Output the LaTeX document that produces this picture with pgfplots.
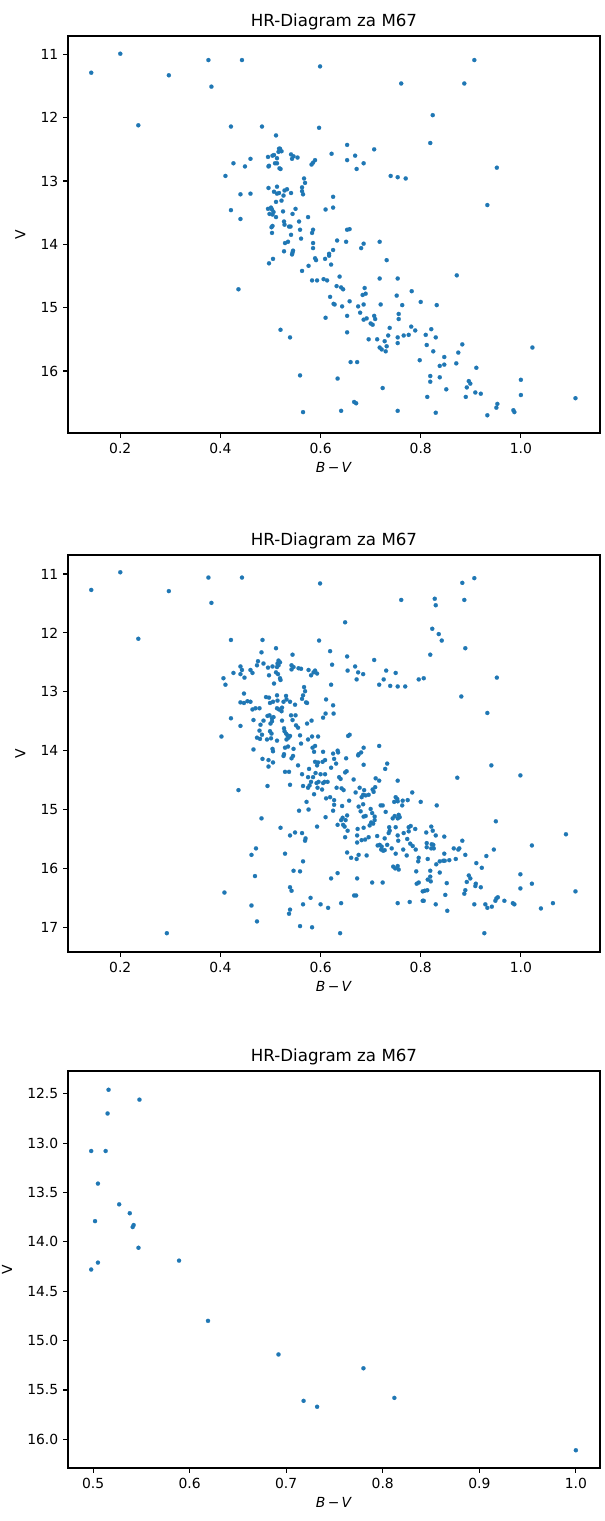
\documentclass[border=0pt]{standalone}
\usepackage{fontspec}
\setmainfont{DejaVu Sans}
\usepackage{pgfplots}
\usepackage{pgfplotstable}
\pgfplotsset{compat=1.18}
\definecolor{c0}{HTML}{1F77B4}

\pgfplotstableread{
x y
0.142 11.29
0.200 10.99
0.297 11.33
0.376 11.09
0.443 11.09
0.382 11.51
0.599 11.19
0.236 12.12
0.421 12.14
0.483 12.14
0.597 12.16
0.511 12.28
0.517 12.49
0.519 12.49
0.516 12.54
0.522 12.53
0.495 12.62
0.504 12.60
0.507 12.59
0.513 12.64
0.541 12.58
0.546 12.61
0.543 12.65
0.554 12.63
0.622 12.57
0.460 12.65
0.426 12.72
0.449 12.77
0.497 12.76
0.496 12.77
0.509 12.72
0.513 12.72
0.518 12.80
0.520 12.81
0.589 12.67
0.585 12.71
0.582 12.74
0.410 12.92
0.567 12.96
0.569 13.03
0.513 13.09
0.496 13.11
0.507 13.17
0.513 13.20
0.517 13.19
0.528 13.15
0.533 13.13
0.526 13.23
0.541 13.19
0.563 13.10
0.563 13.16
0.565 13.21
0.440 13.21
0.460 13.20
0.522 13.31
0.511 13.33
0.625 13.25
0.421 13.46
0.495 13.44
0.501 13.42
0.503 13.45
0.506 13.49
0.498 13.52
0.504 13.53
0.511 13.57
0.525 13.48
0.550 13.44
0.544 13.52
0.610 13.45
0.625 13.42
0.440 13.60
0.575 13.57
0.557 13.64
0.527 13.64
0.528 13.69
0.537 13.72
0.540 13.72
0.502 13.73
0.504 13.71
0.503 13.82
0.559 13.77
0.585 13.77
0.583 13.82
0.541 13.85
0.907 11.09
0.761 11.46
0.887 11.46
0.824 11.96
0.819 12.40
0.653 12.43
0.707 12.50
0.669 12.60
0.653 12.67
0.686 12.72
0.672 12.81
0.740 12.92
0.754 12.94
0.770 12.96
0.952 12.79
0.933 13.38
0.653 13.77
0.658 13.76
0.561 13.91
0.529 13.98
0.535 13.96
0.585 13.98
0.585 14.06
0.527 14.11
0.545 14.10
0.544 14.13
0.543 14.16
0.497 14.30
0.505 14.23
0.589 14.22
0.591 14.25
0.609 14.23
0.617 14.15
0.617 14.18
0.625 14.09
0.621 14.32
0.576 14.34
0.563 14.42
0.583 14.57
0.593 14.57
0.606 14.55
0.613 14.57
0.436 14.71
0.619 14.83
0.626 14.94
0.610 15.16
0.520 15.35
0.539 15.47
0.559 16.07
0.565 16.65
0.633 13.94
0.651 13.96
0.686 13.99
0.681 14.06
0.718 13.96
0.732 14.25
0.638 14.51
0.718 14.54
0.754 14.54
0.872 14.49
0.632 14.66
0.641 14.68
0.645 14.71
0.688 14.69
0.684 14.80
0.690 14.78
0.782 14.74
0.752 14.81
0.628 14.95
0.643 14.98
0.658 14.90
0.675 14.98
0.686 14.95
0.720 14.95
0.763 14.96
0.800 14.91
0.832 14.96
0.679 15.08
0.653 15.13
0.707 15.13
0.709 15.18
0.686 15.19
0.692 15.17
0.756 15.10
0.756 15.18
0.700 15.25
0.704 15.27
0.738 15.32
0.781 15.30
0.789 15.36
0.821 15.34
0.653 15.39
0.735 15.44
0.754 15.47
0.766 15.44
0.776 15.43
0.810 15.43
0.830 15.47
0.696 15.50
0.713 15.50
0.728 15.53
0.732 15.61
0.718 15.63
0.722 15.66
0.730 15.69
0.754 15.56
0.812 15.59
0.883 15.58
1.023 15.63
0.825 15.69
0.875 15.71
0.847 15.78
0.798 15.83
0.660 15.86
0.673 15.86
0.838 15.92
0.847 15.90
0.871 15.88
0.911 15.95
0.634 16.12
0.819 16.08
0.819 16.17
0.838 16.10
0.896 16.16
0.899 16.20
0.892 16.26
1.000 16.14
0.724 16.27
0.851 16.29
0.909 16.34
0.920 16.36
0.813 16.41
0.890 16.41
1.000 16.38
1.109 16.43
0.667 16.49
0.671 16.51
0.953 16.52
0.951 16.58
0.985 16.62
0.987 16.65
0.641 16.63
0.754 16.63
0.830 16.66
0.933 16.70
}\dataA

\pgfplotstableread{
x y
0.142 11.27
0.200 10.97
0.297 11.29
0.376 11.06
0.443 11.06
0.382 11.49
0.236 12.10
0.421 12.12
0.440 12.57
0.443 12.63
0.426 12.68
0.440 12.70
0.448 12.76
0.406 12.77
0.410 12.88
0.447 13.03
0.440 13.18
0.447 13.19
0.421 13.45
0.440 13.58
0.402 13.76
0.436 14.67
0.408 16.41
0.293 17.10
0.907 11.07
0.883 11.15
0.828 11.42
0.830 11.53
0.887 11.44
0.823 11.93
0.836 12.02
0.842 12.13
0.889 12.26
0.819 12.37
0.952 12.76
0.881 13.08
0.933 13.36
0.941 14.25
0.873 14.46
0.999 14.42
0.832 14.93
0.950 15.20
1.090 15.42
0.811 15.39
0.821 15.29
0.824 15.36
0.830 15.44
0.847 15.46
0.812 15.57
0.812 15.64
0.822 15.59
0.825 15.60
0.821 15.66
0.826 15.66
0.883 15.53
0.866 15.66
0.875 15.68
0.877 15.66
1.022 15.61
0.946 15.68
0.847 15.75
0.889 15.77
0.931 15.79
0.814 15.84
0.831 15.93
0.838 15.88
0.845 15.87
0.848 15.87
0.857 15.86
0.870 15.84
0.911 15.91
0.922 15.99
0.819 16.04
0.838 16.07
0.999 16.10
0.819 16.14
0.814 16.19
0.820 16.22
0.896 16.12
0.899 16.17
0.892 16.23
0.852 16.25
1.022 16.26
0.910 16.26
0.909 16.30
0.920 16.32
0.999 16.34
1.109 16.39
0.808 16.38
0.813 16.37
0.889 16.37
0.887 16.43
0.806 16.55
0.849 16.45
0.954 16.49
0.951 16.51
0.949 16.55
0.967 16.55
0.984 16.59
0.987 16.61
0.830 16.61
0.907 16.61
0.929 16.61
0.933 16.67
0.942 16.65
1.064 16.59
1.040 16.68
0.853 16.72
0.927 17.10
0.599 11.16
0.761 11.44
0.649 11.82
0.484 12.12
0.597 12.13
0.511 12.26
0.482 12.33
0.544 12.37
0.619 12.31
0.653 12.40
0.707 12.46
0.475 12.48
0.473 12.55
0.486 12.52
0.516 12.47
0.519 12.50
0.514 12.52
0.516 12.55
0.504 12.57
0.513 12.58
0.495 12.59
0.542 12.55
0.546 12.58
0.542 12.62
0.556 12.60
0.561 12.61
0.576 12.63
0.589 12.64
0.586 12.67
0.593 12.69
0.581 12.72
0.623 12.54
0.460 12.63
0.464 12.68
0.511 12.67
0.497 12.72
0.515 12.70
0.669 12.57
0.654 12.64
0.675 12.67
0.685 12.70
0.731 12.64
0.750 12.68
0.672 12.79
0.726 12.79
0.717 12.88
0.739 12.90
0.754 12.91
0.769 12.91
0.796 12.79
0.806 12.77
0.519 12.77
0.520 12.80
0.507 12.86
0.621 12.88
0.567 12.92
0.569 12.99
0.565 13.06
0.563 13.12
0.571 13.18
0.573 13.19
0.611 13.13
0.625 13.23
0.491 13.09
0.497 13.10
0.513 13.06
0.514 13.15
0.505 13.17
0.499 13.19
0.531 13.07
0.532 13.13
0.526 13.17
0.539 13.17
0.549 13.22
0.454 13.16
0.460 13.17
0.470 13.28
0.464 13.30
0.478 13.28
0.517 13.30
0.513 13.28
0.523 13.27
0.522 13.33
0.610 13.37
0.605 13.44
0.626 13.37
0.582 13.49
0.573 13.54
0.494 13.41
0.498 13.40
0.503 13.45
0.506 13.43
0.466 13.48
0.486 13.49
0.500 13.54
0.503 13.50
0.541 13.40
0.544 13.48
0.550 13.40
0.523 13.49
0.551 13.57
0.555 13.61
0.480 13.56
0.478 13.66
0.483 13.73
0.473 13.78
0.479 13.80
0.499 13.67
0.502 13.71
0.493 13.81
0.501 13.79
0.527 13.62
0.528 13.67
0.531 13.71
0.534 13.74
0.539 13.75
0.536 13.78
0.532 13.81
0.559 13.74
0.583 13.76
0.595 13.76
0.575 13.81
0.655 13.75
0.658 13.73
0.513 13.83
0.466 13.98
0.504 13.97
0.505 14.01
0.529 13.95
0.535 13.93
0.546 13.97
0.527 14.06
0.561 13.88
0.584 13.95
0.589 13.92
0.587 14.02
0.605 14.02
0.634 14.00
0.625 14.05
0.635 14.03
0.686 13.95
0.681 14.03
0.717 13.92
0.676 14.06
0.484 14.14
0.496 14.16
0.505 14.20
0.496 14.27
0.526 14.09
0.542 14.13
0.545 14.09
0.555 14.25
0.529 14.36
0.537 14.36
0.494 14.60
0.539 14.58
0.589 14.19
0.595 14.20
0.604 14.19
0.609 14.16
0.593 14.25
0.577 14.31
0.590 14.38
0.600 14.40
0.609 14.40
0.621 14.29
0.631 14.22
0.627 14.14
0.651 14.13
0.675 14.08
0.686 14.24
0.563 14.40
0.575 14.45
0.585 14.45
0.581 14.53
0.565 14.60
0.575 14.63
0.578 14.59
0.592 14.55
0.596 14.53
0.594 14.63
0.605 14.55
0.608 14.53
0.614 14.53
0.603 14.66
0.637 14.45
0.640 14.48
0.649 14.37
0.652 14.35
0.666 14.49
0.632 14.63
0.642 14.64
0.646 14.67
0.678 14.63
0.687 14.67
0.690 14.76
0.696 14.75
0.704 14.66
0.709 14.62
0.706 14.70
0.685 14.75
0.682 14.79
0.670 14.71
0.710 14.47
0.717 14.51
0.729 14.31
0.733 14.22
0.754 14.51
0.587 14.74
0.611 14.81
0.619 14.79
0.627 14.84
0.627 14.92
0.572 14.87
0.657 14.85
0.643 14.94
0.685 14.91
0.676 14.95
0.700 14.99
0.703 15.06
0.720 14.93
0.724 14.93
0.750 14.79
0.753 14.82
0.754 14.86
0.747 14.87
0.764 14.85
0.763 14.93
0.774 14.84
0.783 14.71
0.800 14.87
0.557 15.02
0.576 15.00
0.625 15.02
0.680 15.03
0.730 15.04
0.482 15.15
0.610 15.13
0.644 15.14
0.641 15.18
0.650 15.18
0.653 15.10
0.686 15.12
0.690 15.11
0.708 15.12
0.708 15.18
0.701 15.22
0.705 15.24
0.744 15.15
0.748 15.11
0.754 15.15
0.756 15.09
0.758 15.13
0.750 15.30
0.634 15.26
0.645 15.26
0.648 15.29
0.654 15.36
0.649 15.47
0.674 15.33
0.673 15.44
0.673 15.56
0.686 15.31
0.698 15.27
0.593 15.29
0.520 15.31
0.539 15.44
0.549 15.39
0.563 15.40
0.570 15.49
0.569 15.53
0.565 15.88
0.682 15.52
0.689 15.51
0.696 15.47
0.713 15.45
0.728 15.49
0.737 15.30
0.738 15.36
0.736 15.40
0.766 15.40
0.776 15.30
0.780 15.28
0.789 15.33
0.776 15.37
0.754 15.44
0.755 15.53
0.773 15.50
0.779 15.58
0.765 15.68
0.714 15.61
0.718 15.60
0.722 15.63
0.721 15.68
0.725 15.70
0.733 15.60
0.728 15.69
0.742 15.66
0.750 15.75
0.772 15.78
0.784 15.62
0.790 15.68
0.796 15.82
0.795 15.88
0.471 15.66
0.462 15.77
0.529 15.75
0.653 15.73
0.661 15.82
0.672 15.84
0.676 15.77
0.692 15.78
0.745 15.97
0.749 16.00
0.754 15.96
0.756 16.02
0.546 16.04
0.559 16.05
0.469 16.13
0.634 16.08
0.621 16.17
0.673 16.17
0.703 16.24
0.724 16.24
0.791 16.05
0.796 16.24
0.792 16.26
0.539 16.32
0.542 16.38
0.804 16.39
0.580 16.50
0.667 16.46
0.671 16.46
0.462 16.63
0.565 16.61
0.600 16.61
0.615 16.67
0.641 16.59
0.754 16.59
0.778 16.57
0.804 16.55
0.539 16.70
0.537 16.77
0.473 16.90
0.559 16.98
0.583 17.00
0.639 17.10
}\dataB

\pgfplotstableread{
x y
0.516 12.46
0.548 12.56
0.515 12.70
0.498 13.08
0.513 13.08
0.505 13.41
0.527 13.62
0.538 13.71
0.542 13.83
0.541 13.85
0.502 13.79
0.547 14.06
0.589 14.19
0.505 14.21
0.498 14.28
0.619 14.80
0.692 15.14
0.780 15.28
0.718 15.61
0.732 15.67
0.812 15.58
1.000 16.11
}\dataC

\pgfplotsset{
  hr/.style={
    scale only axis,
    width=383.04pt, height=285.84pt,
    y dir=reverse,
    axis line style={line width=0.8pt},
    tick style={line width=0.8pt, black},
    tick align=outside,
    major tick length=3.5pt,
    xtick pos=left, ytick pos=left,
    tick label style={font=\fontsize{10}{12}\selectfont},
    label style={font=\fontsize{10}{12}\selectfont},
    title style={font=\fontsize{12}{14}\selectfont, yshift=-5pt},
    /pgf/number format/assume math mode=true,
    title={HR-Diagram za M67},
    xlabel={\textit{B}\,−\,\textit{V}},
    ylabel={V},
    ylabel style={yshift=4pt},
    xticklabel style={/pgf/number format/.cd, fixed, fixed zerofill, precision=1},
  },
  pts/.style={only marks, color=c0, mark=*, mark size=1.5pt, mark options={solid, fill=c0, draw=c0, line width=0.1pt}},
}

\begin{document}
\begin{tikzpicture}
\path[use as bounding box] (-48.96pt,-783.36pt) rectangle (386.64pt,311.76pt);
\begin{axis}[hr, at={(0pt,0pt)},
  xmin=0.0956, xmax=1.158, ymin=10.71, ymax=16.98,
  xtick={0.2,0.4,0.6,0.8,1.0}, ytick={11,12,13,14,15,16}]
\addplot[pts] table[x=x,y=y] {\dataA};
\end{axis}
\begin{axis}[hr, at={(0pt,-373.68pt)},
  xmin=0.0956, xmax=1.158, ymin=10.677, ymax=17.42,
  xtick={0.2,0.4,0.6,0.8,1.0}, ytick={11,12,13,14,15,16,17}]
\addplot[pts] table[x=x,y=y] {\dataB};
\end{axis}
\begin{axis}[hr, at={(0pt,-745.2pt)},
  xmin=0.474, xmax=1.025, ymin=12.27, ymax=16.29,
  xtick={0.5,0.6,0.7,0.8,0.9,1.0},
  ytick={12.5,13.0,13.5,14.0,14.5,15.0,15.5,16.0},
  yticklabel style={/pgf/number format/.cd, fixed, fixed zerofill, precision=1}]
\addplot[pts] table[x=x,y=y] {\dataC};
\end{axis}
\end{tikzpicture}
\end{document}
